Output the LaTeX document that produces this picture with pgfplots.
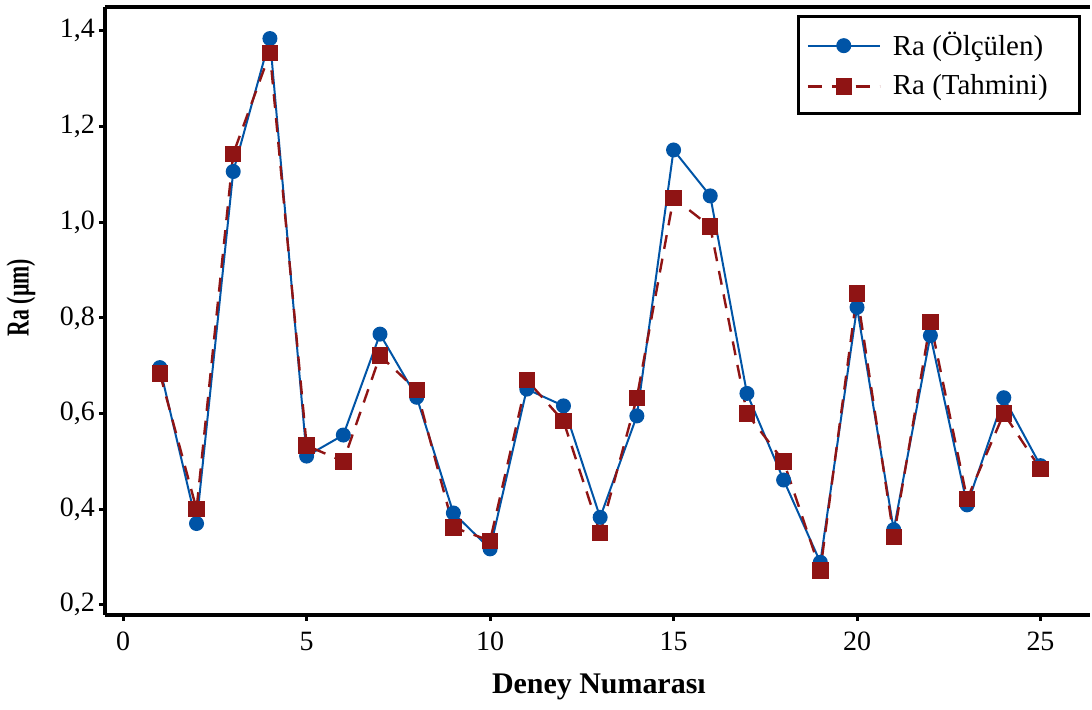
\documentclass[border=0pt]{standalone}
\usepackage{fontspec}
\setmainfont{Liberation Serif}
\usepackage{graphicx}
\usepackage{pgfplots}
\pgfplotsset{compat=1.18}
\definecolor{bluec}{RGB}{0,84,166}
\definecolor{redc}{RGB}{143,20,20}
\begin{document}
\begin{tikzpicture}
\begin{axis}[
  scale only axis,
  width=493.5pt, height=304.5pt,
  xmin=-0.5, xmax=26.35,
  ymin=0.179, ymax=1.45,
  axis x line*=box,
  axis y line*=left,
  axis line style={-, line width=2pt, black},
  xtick={0,5,10,15,20,25},
  ytick={0.2,0.4,0.6,0.8,1.0,1.2,1.4},
  xtick pos=bottom, ytick pos=left,
  tick align=outside,
  major tick length=3pt,
  tick style={line width=1.5pt, black},
  /pgf/number format/assume math mode=true,
  /pgf/number format/use comma,
  yticklabel style={/pgf/number format/fixed, /pgf/number format/precision=1, /pgf/number format/fixed zerofill, font=\fontsize{14}{16}\selectfont, xshift=1.5pt},
  xticklabel style={font=\fontsize{14}{16}\selectfont, yshift=-2pt},
  xlabel={Deney Numarası},
  ylabel={\scalebox{0.68}[1]{Ra (µm)}},
  xlabel style={font=\fontsize{15}{17}\selectfont\bfseries, at={(axis description cs:0.5015,-0.0969)}, anchor=north, inner sep=0pt},
  ylabel style={font=\fontsize{16}{18}\selectfont\bfseries, at={(axis description cs:-0.0699,0.522)}, anchor=south, inner sep=0pt},
  legend style={at={(1,1)}, anchor=north east, xshift=-4.5pt, yshift=-4pt,
    draw=black, line width=1.5pt, font=\fontsize{14.5}{17}\selectfont,
    row sep=4pt, inner xsep=4pt, inner ysep=6pt, column sep=4pt},
  legend cell align=left,
  legend image code/.code={\draw[mark repeat=2,mark phase=2] plot coordinates {(0pt,0pt) (18pt,0pt) (36pt,0pt)};},
]
\addplot[color=bluec, line width=1pt, mark=*, mark size=3.25pt, mark options={fill=bluec, draw=bluec, solid}] coordinates {
(1,0.696) (2,0.370) (3,1.106) (4,1.384) (5,0.511) (6,0.555) (7,0.766) (8,0.634) (9,0.392) (10,0.317)
(11,0.651) (12,0.616) (13,0.383) (14,0.595) (15,1.151) (16,1.055) (17,0.642) (18,0.461) (19,0.289) (20,0.822)
(21,0.357) (22,0.763) (23,0.409) (24,0.633) (25,0.491)};
\addlegendentry{\makebox[87.5pt][l]{Ra (Ölçülen)}}
\addplot[color=redc, line width=1.2pt, dash pattern=on 7pt off 5pt, mark=square*, mark size=3.5pt, mark options={fill=redc, draw=redc, solid}] coordinates {
(1,0.684) (2,0.400) (3,1.143) (4,1.354) (5,0.533) (6,0.500) (7,0.721) (8,0.649) (9,0.362) (10,0.334)
(11,0.670) (12,0.584) (13,0.350) (14,0.633) (15,1.051) (16,0.991) (17,0.600) (18,0.500) (19,0.272) (20,0.851)
(21,0.342) (22,0.792) (23,0.421) (24,0.600) (25,0.484)};
\addlegendentry{\makebox[87.5pt][l]{Ra (Tahmini)}}
\coordinate (SW) at (rel axis cs:0,0);
\coordinate (NE) at (rel axis cs:1,1);
\end{axis}
\path ([shift={(-52.5pt,-47.5pt)}]SW) rectangle ([shift={(0pt,3.5pt)}]NE);
\end{tikzpicture}
\end{document}
